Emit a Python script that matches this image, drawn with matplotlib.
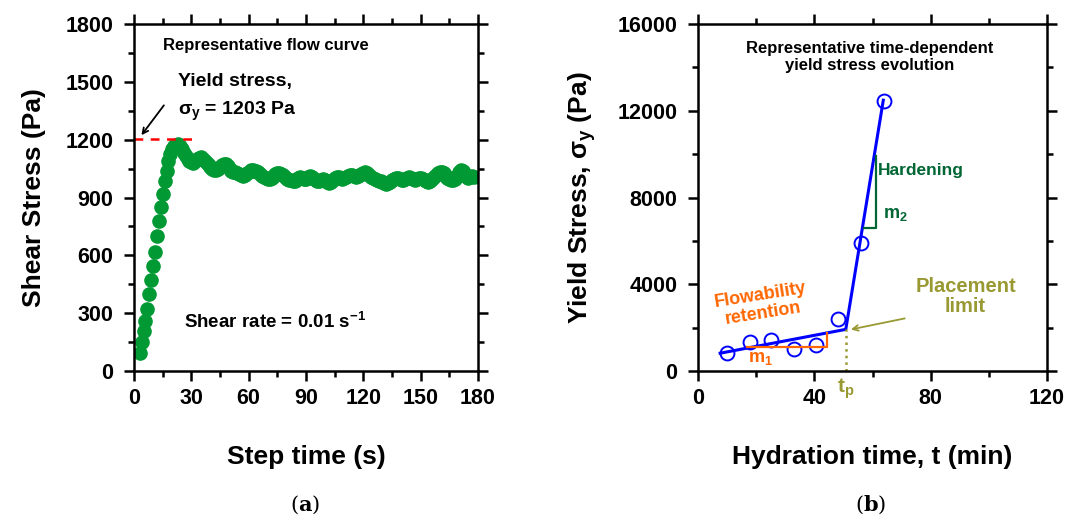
import numpy as np
import matplotlib
matplotlib.use("Agg")
import matplotlib.pyplot as plt
from matplotlib.ticker import MultipleLocator

plt.rcParams['font.family'] = ['Liberation Sans', 'DejaVu Sans']
plt.rcParams['font.weight'] = 'bold'
plt.rcParams['mathtext.fontset'] = 'custom'
plt.rcParams['mathtext.rm'] = 'Liberation Sans:bold'
plt.rcParams['mathtext.it'] = 'Liberation Sans:bold'
plt.rcParams['mathtext.bf'] = 'Liberation Sans:bold'

# (a) flow curve, one reading per second starting at t = 3 s
flow_start = 3
flow_stress = [
    92, 150, 205, 260, 320, 400, 470, 545, 620, 700,
    780, 850, 920, 985, 1040, 1090, 1125, 1150, 1165, 1175,
    1180, 1170, 1150, 1130, 1115, 1100, 1090, 1085, 1080, 1090,
    1100, 1105, 1110, 1100, 1090, 1080, 1070, 1060, 1050, 1045,
    1045, 1050, 1060, 1070, 1075, 1075, 1065, 1050, 1040, 1035,
    1030, 1025, 1020, 1015, 1010, 1015, 1025, 1035, 1045, 1045,
    1040, 1040, 1030, 1020, 1010, 1005, 1000, 995, 995, 1000,
    1010, 1020, 1025, 1025, 1020, 1015, 1005, 995, 990, 990,
    985, 985, 990, 1000, 1005, 1000, 995, 995, 1005, 1010,
    1005, 995, 990, 985, 985, 990, 995, 990, 980, 975,
    980, 990, 1000, 1005, 1005, 1000, 995, 1000, 1005, 1010,
    1015, 1015, 1010, 1005, 1010, 1015, 1020, 1025, 1030, 1025,
    1015, 1005, 1000, 995, 990, 985, 985, 980, 975, 970,
    975, 980, 990, 995, 1000, 1000, 995, 990, 990, 995,
    1000, 1005, 1000, 995, 990, 995, 1000, 1000, 995, 990,
    985, 980, 985, 995, 1005, 1015, 1025, 1035, 1035, 1025,
    1010, 1000, 995, 990, 990, 995, 1010, 1030, 1045, 1040,
    1020, 1005, 1000, 1005, 1010, 1005,
]
yield_stress_a = 1203

# (b) yield stress vs hydration time
hyd_time = [10, 18, 25, 33, 40.5, 48, 56, 64]
hyd_yield = [850, 1320, 1420, 1030, 1180, 2380, 5920, 12460]
fit_t = [7.6, 50.8, 63.7]
fit_y = [820, 1920, 12490]
m1_t = [17, 44.5, 44.5]
m1_y = [1090, 1090, 1770]
m2_t = [56.9, 61.1, 61.1]
m2_y = [6590, 6590, 9910]

green = '#009933'
blue = '#0000ff'
orange = '#ff6600'
olive = '#999933'
dkgreen = '#006633'

fig = plt.figure(figsize=(10.67, 5.24), dpi=100)
ax1 = fig.add_axes([0.1256, 0.292, 0.3224, 0.662])
ax2 = fig.add_axes([0.6542, 0.292, 0.3271, 0.662])

def style(ax):
    for s in ax.spines.values():
        s.set_linewidth(1.8)
    ax.tick_params(which='both', direction='out', width=1.8, labelsize=15.5,
                   top=True, right=True, labeltop=False, labelright=False)
    ax.tick_params(which='major', length=7, pad=5)
    ax.tick_params(axis='y', which='major', pad=8)
    ax.tick_params(which='minor', length=4)
    for lab in ax.get_xticklabels() + ax.get_yticklabels():
        lab.set_fontweight('bold')

t_flow = np.arange(flow_start, flow_start + len(flow_stress))
ax1.plot(t_flow, flow_stress, 'o', color=green, ms=9.5, mec=green)
ax1.plot([0, 33], [yield_stress_a, yield_stress_a], '--', color='#ff0000',
         lw=1.8, dashes=(3.5, 3))
ax1.set_xlim(0, 180)
ax1.set_ylim(0, 1800)
ax1.xaxis.set_major_locator(MultipleLocator(30))
ax1.xaxis.set_minor_locator(MultipleLocator(15))
ax1.yaxis.set_major_locator(MultipleLocator(300))
ax1.yaxis.set_minor_locator(MultipleLocator(150))
style(ax1)
ax1.set_xlabel('Step time (s)', fontsize=19, fontweight='bold', labelpad=26)
ax1.set_ylabel('Shear Stress (Pa)', fontsize=19, fontweight='bold', labelpad=14)
ax1.text(69, 1690, 'Representative flow curve', ha='center', va='center', fontsize=12)
ax1.text(23, 1500, 'Yield stress,', ha='left', va='center', fontsize=14)
ax1.text(23, 1345, r'$\sigma_y$ = 1203 Pa', ha='left', va='center', fontsize=14)
ax1.annotate('', xy=(3, 1212), xytext=(16.5, 1390),
             arrowprops=dict(arrowstyle='->', color='black', lw=1.3))
ax1.text(26, 255, r'Shear rate = 0.01 s$^{-1}$', ha='left', va='center', fontsize=13.5)

ax2.plot(fit_t, fit_y, '-', color=blue, lw=2.2)
ax2.plot(hyd_time, hyd_yield, 'o', mfc='none', mec=blue, ms=10, mew=1.4)
ax2.plot(m1_t, m1_y, '-', color=orange, lw=1.6)
ax2.plot(m2_t, m2_y, '-', color=dkgreen, lw=1.6)
ax2.plot([fit_t[1], fit_t[1]], [0, fit_y[1]], ':', color=olive, lw=1.8)
ax2.set_xlim(0, 120)
ax2.set_ylim(0, 16000)
ax2.xaxis.set_major_locator(MultipleLocator(40))
ax2.xaxis.set_minor_locator(MultipleLocator(20))
ax2.yaxis.set_major_locator(MultipleLocator(4000))
ax2.yaxis.set_minor_locator(MultipleLocator(2000))
style(ax2)
ax2.set_xlabel('Hydration time, t (min)', fontsize=19, fontweight='bold', labelpad=26)
ax2.set_ylabel(r'Yield Stress, $\sigma_y$ (Pa)', fontsize=19, fontweight='bold', labelpad=14)
ax2.text(59, 14480, 'Representative time-dependent\nyield stress evolution',
         ha='center', va='center', fontsize=12, linespacing=1.2)
ax2.text(61.8, 9270, 'Hardening', ha='left', va='center', fontsize=12.5, color=dkgreen)
ax2.text(63.5, 7240, r'm$_2$', ha='left', va='center', fontsize=13, color=dkgreen)
ax2.text(92, 3420, 'Placement\nlimit', ha='center', va='center', fontsize=14.5,
         color=olive, linespacing=1.05)
ax2.annotate('', xy=(51.6, 1890), xytext=(72, 2450),
             arrowprops=dict(arrowstyle='->', color=olive, lw=1.3))
ax2.text(22, 3050, 'Flowability\nretention', ha='center', va='center', fontsize=13,
         color=orange, rotation=9, linespacing=1.1)
ax2.text(21.5, 560, r'm$_1$', ha='center', va='center', fontsize=13, color=orange)
ax2.text(fit_t[1], -800, r't$_p$', ha='center', va='center', fontsize=15, color=olive)

fig.text(0.286, 0.036, r'($\mathbf{a}$)', ha='center', va='center', fontsize=15,
         family='DejaVu Serif', fontweight='normal', math_fontfamily='dejavuserif')
fig.text(0.816, 0.036, r'($\mathbf{b}$)', ha='center', va='center', fontsize=15,
         family='DejaVu Serif', fontweight='normal', math_fontfamily='dejavuserif')

fig.savefig('out.png', dpi=100)
